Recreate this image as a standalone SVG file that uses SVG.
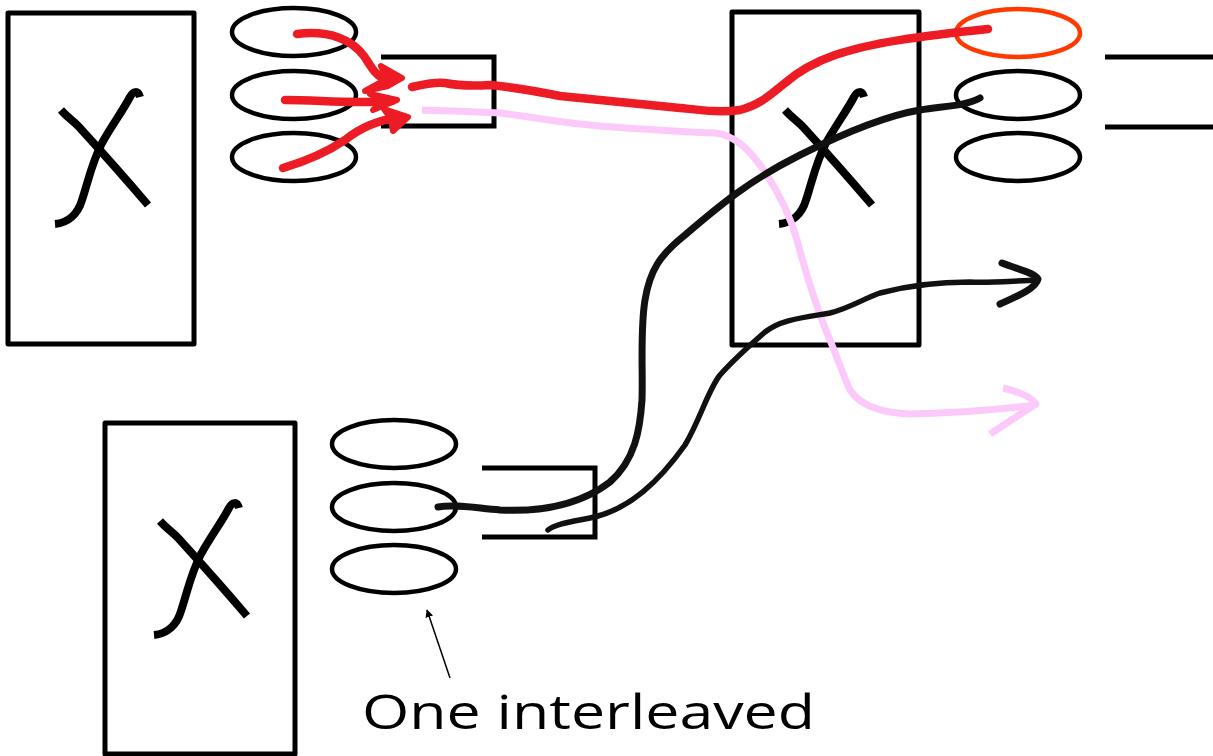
<svg xmlns="http://www.w3.org/2000/svg" width="1213" height="756" viewBox="0 0 1213 756">
<style>
.box{fill:none;stroke:#000;stroke-width:5;stroke-linejoin:round}
.ell{fill:none;stroke:#000;stroke-width:4.5}
.x{fill:none;stroke:#000;stroke-width:8;stroke-linecap:butt;stroke-linejoin:round}
.br{fill:none;stroke:#000;stroke-width:5}
.red{fill:none;stroke:#ED1C24;stroke-width:8.5;stroke-linecap:round;stroke-linejoin:round}
.redh{fill:#ED1C24;stroke:#ED1C24;stroke-width:6;stroke-linejoin:round}
.pink{fill:none;stroke:#FBCAFB;stroke-width:7;stroke-linecap:butt;stroke-linejoin:round}
.blk{fill:none;stroke:#111;stroke-linecap:round;stroke-linejoin:round}
.lbl{font-family:"Open Sans","Liberation Sans",sans-serif;font-size:47px;fill:#000}
</style>
<defs>
<g id="xmark">
<path class="x" d="M61,110 C68,118 75,122 80,128 C100,150 125,178 148,205"/>
<path class="x" d="M55,224 C68,223 78,214 82,200 C88,182 92,162 102,143 C112,125 122,112 130,97 C133,91 138,90 140,97"/>
</g>
<marker id="ah" viewBox="0 0 10 10" refX="9" refY="5" markerWidth="8" markerHeight="8" orient="auto" markerUnits="userSpaceOnUse">
<path d="M0,0 L10,5 L0,10 z" fill="#000"/>
</marker>
</defs>

<g id="node-host1">
<rect class="box" x="8" y="13" width="186" height="331"/>
<use href="#xmark"/>
</g>
<g id="node-host1-queues">
<ellipse class="ell" cx="294" cy="32" rx="62" ry="24"/>
<ellipse class="ell" cx="294" cy="95" rx="62" ry="24"/>
<ellipse class="ell" cx="294" cy="157" rx="62" ry="24"/>
</g>
<g id="node-host1-port">
<path class="br" d="M381,57 H494 V126 H381"/>
</g>

<g id="node-switch">
<rect class="box" x="732" y="12" width="187" height="333"/>
<use href="#xmark" transform="translate(724,0)"/>
</g>
<g id="node-switch-queues">
<ellipse cx="1018" cy="33" rx="62" ry="24" fill="none" stroke="#FF3A00" stroke-width="4.5"/>
<ellipse class="ell" cx="1018" cy="95" rx="62" ry="24"/>
<ellipse class="ell" cx="1018" cy="157" rx="62" ry="24"/>
</g>
<g id="node-switch-port">
<path class="br" d="M1105,57 H1213 M1105,127 H1213"/>
</g>

<g id="node-host2">
<rect class="box" x="105" y="423" width="190" height="331"/>
<use href="#xmark" transform="translate(99,411)"/>
</g>
<g id="node-host2-queues">
<ellipse class="ell" cx="394" cy="444" rx="62" ry="24"/>
<ellipse class="ell" cx="394" cy="507" rx="62" ry="24"/>
<ellipse class="ell" cx="394" cy="569" rx="62" ry="24"/>
</g>
<g id="node-host2-port">
<path class="br" d="M482,468 H595 V537 H482"/>
</g>

<g id="connectors">
<path class="red" d="M297,34 C330,30 352,40 364,56 C370,65 374,74 384,79"/>
<path class="redh" d="M381,66 L402,78 L388,86 L365,91 L387,79 z"/>
<path class="red" d="M285,100 C320,100 350,104 392,101"/>
<path class="redh" d="M370,94 L397,100 L373,110 L382,101 z"/>
<path class="red" d="M283,168 C310,160 330,150 345,140 C360,128 378,120 398,118"/>
<path class="redh" d="M384,109 L408,117 L393,131 L391,119 z"/>
<path class="red" d="M412,87 C425,84 435,82 445,83 C460,86 475,86 490,85 C520,88 540,92 560,96 C600,100 640,104 680,108 C700,110 720,113 740,110 C760,105 770,95 785,83 C800,70 815,62 835,55 C870,43 920,36 988,29"/>
<path class="pink" d="M422,110 C460,111 480,112 500,113 C540,118 560,123 600,126 C640,129 680,132 715,133 C735,135 750,150 765,172 C780,195 790,215 797,240 C805,270 815,305 830,340 C840,365 845,380 850,390 C860,405 880,413 910,414 C950,413 990,411 1035,405"/>
<path class="pink" d="M1003,388 C1020,392 1032,398 1036,404 L990,434"/>
<path class="blk" stroke-width="7" d="M438,507 C455,504 475,508 500,510 C540,512 580,505 610,482 C635,460 640,430 642,400 C643,370 640,330 645,300 C650,270 660,255 685,235 C720,205 750,180 800,155 C850,130 890,115 920,110 C945,106 965,106 980,98"/>
<path class="blk" stroke-width="5.5" d="M548,530 C555,524 570,522 590,518 C630,510 660,480 685,445 C700,420 708,390 720,375 C735,358 750,345 765,332 C780,320 800,318 830,313 C850,308 865,298 880,293 C910,285 940,282 970,282 C990,283 1010,281 1038,280"/>
<path class="blk" stroke-width="7" stroke-linecap="butt" d="M1002,263 C1020,270 1035,273 1038,279 C1036,288 1020,295 1000,304"/>
<line x1="450" y1="678" x2="427" y2="610" stroke="#000" stroke-width="1.5" marker-end="url(#ah)"/>
</g>

<g id="label">
<text class="lbl" x="362" y="729" textLength="453" lengthAdjust="spacingAndGlyphs">One interleaved</text>
</g>
</svg>
